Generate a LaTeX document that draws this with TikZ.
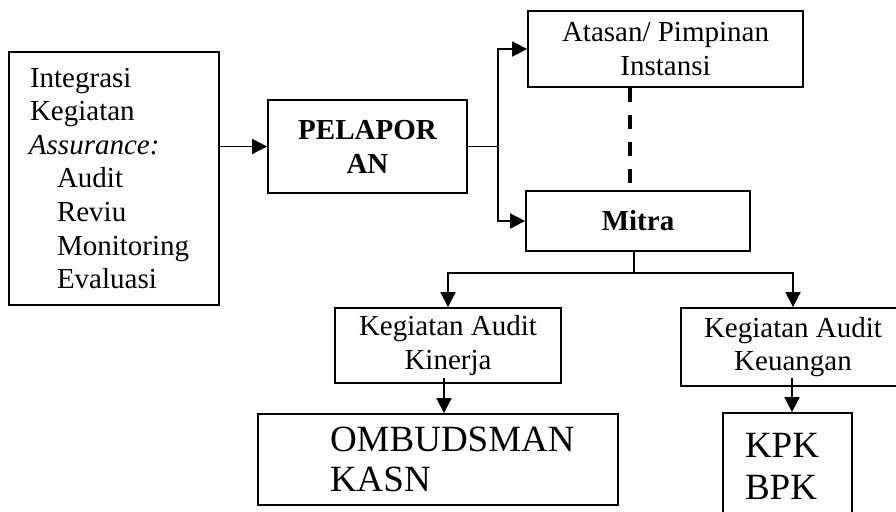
\documentclass[tikz,border=0pt]{standalone}
\usepackage{fontspec}
\setmainfont{Liberation Serif}
\usetikzlibrary{arrows.meta,calc}

% font sizes used in the chart
\newcommand\txtmain{\fontsize{29}{33.6}\selectfont}
\newcommand\txtbold{\fontsize{29}{34}\selectfont\bfseries}
\newcommand\txtbig{\fontsize{37}{40}\selectfont}
\newcommand\txtbigb{\fontsize{37}{42}\selectfont}

\tikzset{
  box/.style={draw, line width=1.8pt, inner sep=0pt, align=center},
  link/.style={line width=1.8pt},
  arr/.style={link, -{Triangle[length=15pt,width=15pt]}},
  dashline/.style={line width=4pt, dash pattern=on 14pt off 13pt},
}

\begin{document}
\begin{tikzpicture}[x=1pt,y=-1pt]
\clip (0,0) rectangle (896,511);

% source activities
\node[box, align=left, text width=210pt, minimum height=253pt, font=\txtmain] (src) at (114,178.5)
  {\hspace*{21pt}Integrasi\\
   \hspace*{21pt}Kegiatan\\
   \hspace*{20pt}\textit{Assurance:}\\
   \hspace*{48pt}Audit\\
   \hspace*{48pt}Reviu\\
   \hspace*{48pt}Monitoring\\
   \hspace*{48pt}Evaluasi};

% reporting
\node[box, minimum width=199pt, minimum height=93pt, font=\txtbold] (pel) at (367.5,146.5)
  {PELAPOR\\AN};

% recipients
\node[box, minimum width=275pt, minimum height=76pt, font=\txtmain] (ata) at (665.5,49)
  {Atasan/ Pimpinan\\Instansi};
\node[box, minimum width=224pt, minimum height=60pt, font=\txtbold] (mitra) at (638,221)
  {Mitra};

% audit activities
\node[box, minimum width=226pt, minimum height=75pt, font=\txtmain] (kin) at (448,345.5)
  {Kegiatan Audit\\Kinerja};
\node[box, minimum width=224pt, minimum height=78pt, font=\txtmain] (keu) at (793,347)
  {Kegiatan Audit\\Keuangan};

% partner institutions
\node[box, align=left, text width=360pt, minimum height=91pt, font=\txtbig] (omb) at (438,459.5)
  {\hspace*{72pt}OMBUDSMAN\\\hspace*{72pt}KASN};
\node[box, align=left, text width=129pt, minimum height=107pt, font=\txtbigb] (kpk) at (787.5,466.5)
  {\hspace*{22pt}KPK\\\hspace*{22pt}BPK};

% connectors
\draw[arr] (pel.west -| src.east) -- (pel.west);

\coordinate (split) at ($(pel.east)+(30,0)$);
\draw[link] (pel.east) -- (split);
\draw[arr] (split) |- (ata.west);
\draw[arr] (split) |- (mitra.west);

\coordinate (dtop) at ($(ata.south)+(-35.5,0)$);
\draw[dashline] (dtop) -- (dtop |- mitra.north);

\coordinate (fork) at ($(mitra.south)+(-4,21)$);
\draw[link] (fork |- mitra.south) -- (fork);
\draw[arr] (fork) -| (kin.north);
\draw[arr] (fork) -| (keu.north);

\coordinate (kdown) at ($(kin.south)+(-4,-6)$);
\draw[arr] (kdown) -- (kdown |- omb.north);
\coordinate (udown) at ($(keu.south)+(-1,-9)$);
\draw[arr] (udown) -- (udown |- kpk.north);
\end{tikzpicture}
\end{document}
